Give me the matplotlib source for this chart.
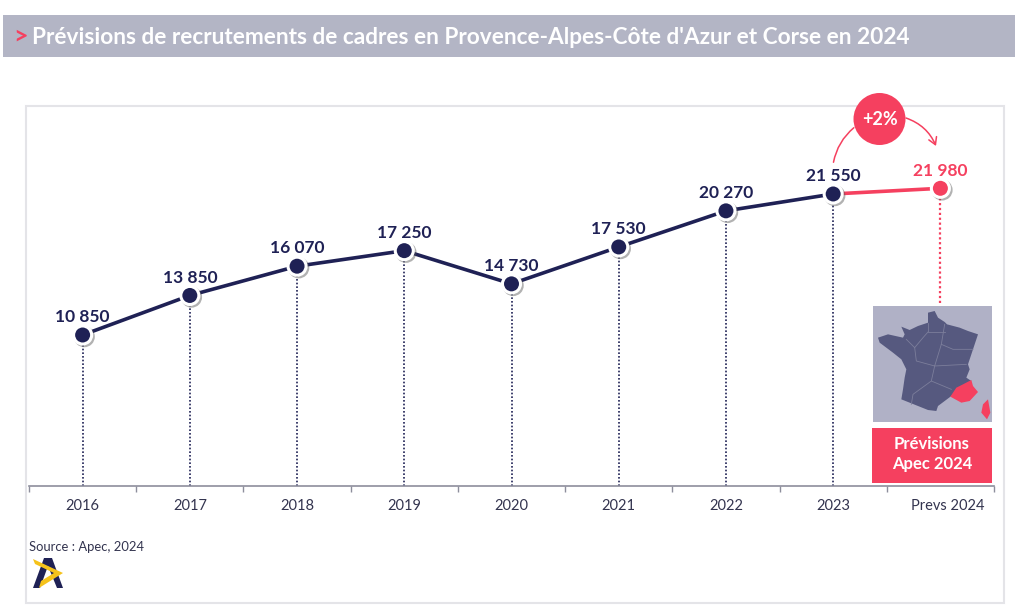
import matplotlib
matplotlib.use("Agg")
import matplotlib.pyplot as plt
import matplotlib.patheffects as pe
from matplotlib.patches import Rectangle, Circle, Polygon, FancyArrowPatch
from matplotlib.transforms import ScaledTranslation

plt.rcParams['font.family'] = ['Lato', 'DejaVu Sans']

years = ['2016', '2017', '2018', '2019', '2020', '2021', '2022', '2023', 'Prevs 2024']
recrutements = [10850, 13850, 16070, 17250, 14730, 17530, 20270, 21550, 21980]
title = "Prévisions de recrutements de cadres en Provence-Alpes-Côte d'Azur et Corse en 2024"

NAVY = '#1f2155'
PINK = '#f5405f'
W, H = 1021, 609


def fmt(v):
    return f'{v:,}'.replace(',', ' ')


fig = plt.figure(figsize=(W / 100, H / 100), dpi=100, facecolor='white')

# decor layer, in image pixels
bg = fig.add_axes([0, 0, 1, 1], zorder=0)
bg.set_xlim(0, W)
bg.set_ylim(H, 0)
bg.axis('off')
bg.add_patch(Rectangle((3, 15), 1012, 42, color='#b3b5c5', lw=0))
bg.text(13, 36.5, '>', color=PINK, fontsize=18, fontweight='bold', va='center')
bg.text(32, 37, title, color='white', fontsize=16.3, fontweight='bold', va='center')
bg.add_patch(Rectangle((26, 106), 978, 497, fc='white', ec='#e4e4e8', lw=1.5))
bg.text(29, 547, 'Source : Apec, 2024', color='#33344f', fontsize=9.4, va='center')

# logo
bg.add_patch(Polygon([(33, 588), (44, 558), (52, 558), (63, 588), (57, 588), (48, 566), (40, 588)], color=NAVY, lw=0))
bg.add_patch(Polygon([(33, 559), (63, 573), (39, 588), (41, 581), (54, 573), (35, 564)], color='#f5c21b', lw=0))

# main chart
ax = fig.add_axes([29 / W, (H - 486) / H, 965 / W, 380 / H], zorder=1)
ax.patch.set_alpha(0)
ax.set_xlim(-0.5, 8.5)
ax.set_ylim(-607, 28225)
x = list(range(len(years)))

ax.vlines(x[:-1], -607, recrutements[:-1], color=NAVY, lw=1.2, linestyles=(0, (1, 1.2)), zorder=1)
ax.vlines(x[-1], 13280, recrutements[-1], color=PINK, lw=1.6, linestyles=(0, (1, 1.2)), zorder=1)
ax.plot(x[:-1], recrutements[:-1], color=NAVY, lw=2.6, zorder=2)
ax.plot(x[-2:], recrutements[-2:], color=PINK, lw=2.6, zorder=2)

shadow = [pe.SimpleLineShadow(offset=(1.2, -1.2), shadow_color='#555555', alpha=0.45), pe.Normal()]
for i, v in zip(x, recrutements):
    c = PINK if i == x[-1] else NAVY
    ax.plot([i], [v], 'o', ms=13, mfc=c, mec='white', mew=2.2, zorder=3, path_effects=shadow)
    ax.annotate(fmt(v), (i, v), xytext=(0, 12.8), textcoords='offset points', ha='center', va='center',
                color=c, fontsize=12.5, fontweight='bold', zorder=4)

for s in ['top', 'left', 'right']:
    ax.spines[s].set_visible(False)
ax.spines['bottom'].set_color('#8d8e9c')
ax.spines['bottom'].set_linewidth(1.2)
ax.set_yticks([])
ax.set_xticks(x)
ax.set_xticklabels(years, color='#33344f', fontsize=10.5)
ax.tick_params(axis='x', which='major', length=0, pad=9)
ax.set_xticks([i - 0.5 for i in range(len(years) + 1)], minor=True)
ax.tick_params(axis='x', which='minor', length=4, color='#8d8e9c', width=1)
# last label sits a bit right of its tick in the original
last = ax.get_xticklabels()[-1]
last.set_transform(last.get_transform() + ScaledTranslation(7 / 100, 0, fig.dpi_scale_trans))

# top layer: +2% badge, arrows, map
top = fig.add_axes([0, 0, 1, 1], zorder=2)
top.set_xlim(0, W)
top.set_ylim(H, 0)
top.axis('off')
top.add_patch(FancyArrowPatch((833, 165), (856, 126), connectionstyle='arc3,rad=-0.2', arrowstyle='-', color=PINK, lw=1.1))
top.add_patch(FancyArrowPatch((906, 118), (936, 146), connectionstyle='arc3,rad=-0.22', arrowstyle='->,head_length=5,head_width=3',
                              color=PINK, lw=1.1, shrinkA=0, shrinkB=0))
top.add_patch(Circle((879.5, 119), 26, color=PINK, lw=0))
top.text(879.5, 119.5, '+2%', color='white', fontsize=13, fontweight='bold', ha='center', va='center')

# little map of France, outline
top.add_patch(Rectangle((873, 306), 119, 116, color='#b0b1c6', lw=0))
MAP = '#56597f'


def mp(pts):
    return [(873 + a / 3, 306 + b / 3) for a, b in pts]


france = [(165, 20), (185, 15), (195, 35), (215, 48), (222, 55), (260, 65), (285, 75), (315, 85), (305, 115),
          (295, 145), (285, 175), (290, 190), (280, 215), (295, 225), (235, 270), (215, 285), (195, 300), (190, 315),
          (165, 312), (130, 298), (85, 280), (90, 250), (95, 215), (100, 190), (85, 160), (60, 140), (20, 110),
          (15, 95), (45, 85), (90, 95), (95, 85), (85, 62), (110, 72), (135, 60), (165, 50)]
paca = [(295, 222), (300, 240), (315, 258), (290, 285), (265, 290), (232, 272), (250, 245), (270, 235)]
corse = [(345, 280), (352, 320), (342, 340), (325, 320), (330, 295)]
borders = [[(165, 50), (165, 78), (215, 78)], [(215, 55), (205, 115)], [(205, 115), (240, 130), (300, 130)],
           [(165, 78), (150, 95), (125, 125), (100, 100)], [(125, 125), (130, 165), (185, 180), (205, 115)],
           [(185, 180), (175, 225), (120, 265), (115, 295)], [(175, 225), (235, 250)], [(185, 180), (280, 175)]]
top.add_patch(Polygon(mp(france), color=MAP, lw=0))
for b in borders:
    top.plot(*zip(*mp(b)), color='#7c7e9b', lw=0.6)
top.add_patch(Polygon(mp(paca), color=PINK, lw=0))
top.add_patch(Polygon(mp(corse), color=PINK, lw=0))

top.add_patch(Rectangle((872, 428), 120, 55, color=PINK, lw=0))
top.text(932, 444, 'Prévisions', color='white', fontsize=12, fontweight='bold', ha='center', va='center')
top.text(932, 464, 'Apec 2024', color='white', fontsize=12, fontweight='bold', ha='center', va='center')

fig.savefig('out.png', dpi=100)
